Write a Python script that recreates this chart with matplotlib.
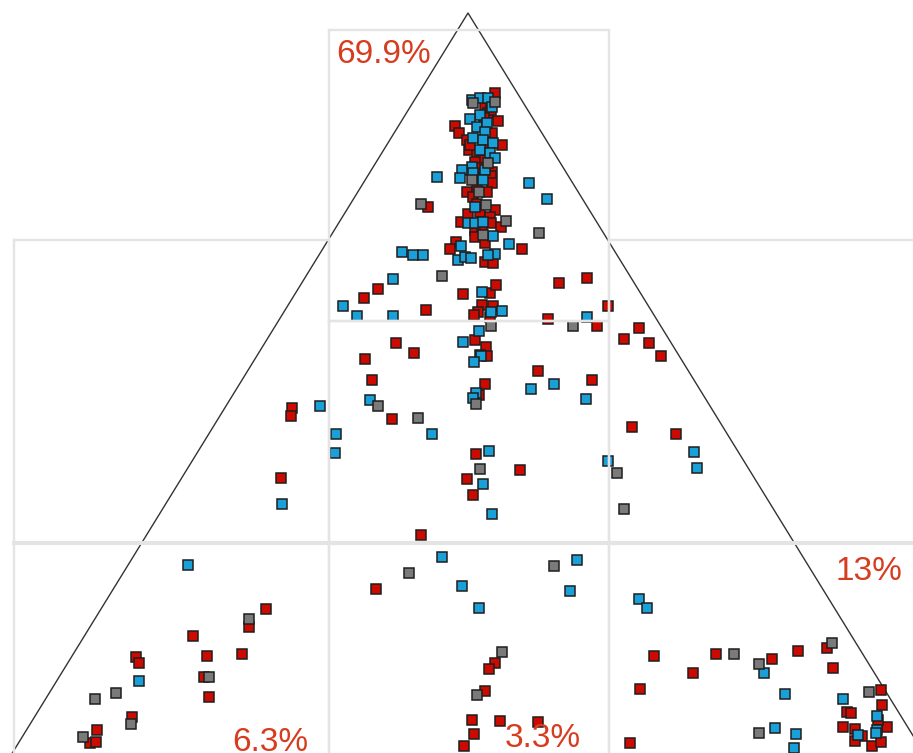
import matplotlib
matplotlib.use("Agg")
import matplotlib.pyplot as plt
import numpy as np

# ---------------- data (pixel-like units) ----------------
red_pts = [
    (495,92.7),(485,105),(488,113),(490.7,110),(497.7,120.7),(455,126),(459.3,133.3),(491.7,133.3),
    (466.7,140),(501.7,145),(469.3,150),(488.3,148.3),(476.7,155),(481.7,160),(475,161.7),(478.3,168.3),
    (491.7,171.7),(485,173.3),(490.7,176),(491.7,182.7),(479.3,179.3),(466.7,191.7),(487.3,191.7),
    (472.7,196.7),(428.3,207.3),(476.7,204),(480,211.7),(495,210),(460.7,221.7),(490,216.7),(490.7,223.3),
    (501,226.7),(475,230),(481.7,230),(475,236.7),(485,242.7),(456,241.7),(450,248.7),(522.3,248.7),
    (485,261.7),(493.3,262.7),(470,145),(484,118),(477,186),(468,214),
    (377.7,289.3),(364,298.3),(425.7,310),(463.3,294.3),(490,293.3),(496,285),(482.3,305),(493.3,306),
    (478.3,312.3),(474,315),(490,317.3),(559.3,282.7),(586.7,277.5),(608.3,306.3),(547.7,319.3),
    (596.7,326.3),(639.3,328.3),(624.3,338.7),(649.3,342.7),(660.7,355.7),
    (475,340),(486,346.7),(480,355),(487.3,356),(395.5,342.7),(414.3,353),(365.2,359.2),(371.8,380.2),
    (537.7,371),(591.7,380),(484.5,384.2),(478.8,395),(391.8,419.3),
    (292.3,407.7),(291,415.7),(281,478),(475.8,454),(466.9,479.3),(473.3,495),(520,470),(631.7,427),
    (676,433.7),(421,535.3),
    (376.3,588.7),(265.7,609.3),(249.3,626.7),(192.7,635.7),(136,657.3),(139,663),(206.7,656),(242,653.7),
    (204,677.3),(209,696.7),(132.3,717.3),(96.7,730.3),(90,743.3),(96,742.3),
    (495,662.7),(488.7,669.3),(484.7,691.3),(472,720),(499.7,721),(537.7,722),(474.3,734),(464.3,745.7),
    (653.5,656),(640.3,688.7),(630.3,743.3),(692.7,672.7),(716,653.7),(771.7,659),(798,651),(827,648.3),
    (833.3,668),(881,690),(846.7,711.7),(850.7,713.3),(882,705.3),(843.3,726.7),(855,729.3),(862.3,735.7),
    (887.3,727.3),(855,740.7),(872.3,745.7),(881,742),(878,720),
]
blue_pts = [
    (471.7,100),(480,98.3),(488.3,98.3),(491.7,106.7),(480,115),(470,119.3),(476.7,126.7),(486.7,123.3),
    (485,131.7),(473.3,138.3),(483.3,140),(493.3,142.7),(480,150),(490,153.3),(495,158.3),(471.7,166.7),
    (461.7,170),(485,170),(473.3,173.3),(436.7,176.7),(460,178.3),(483.3,180),(529,182.7),(546.7,199.3),
    (475,206.7),(468.3,223.3),(475,222.7),(482.7,221.7),(493.3,236),(508.7,243.5),(461,246),(402,252.3),
    (412.7,255.3),(422.7,255.3),(458.3,260),(465,256.7),(471,258.3),(495,254),(488.3,255),
    (393,278.5),(342.7,306),(356.5,316.3),(393,316.3),(482.3,292),(491,311.7),(502.3,311),(586.7,317),
    (479,330.7),(463.3,342.2),(480.5,355.5),(474.3,362.3),(531,389),(554,384.2),(585.5,398.7),
    (475.7,393.3),(473,398.3),(370,399.7),(432,433.5),(320,406.3),(336.2,433.5),(335.2,453),(282.3,504),
    (489,450.7),(483.3,484.3),(492.3,514.3),(608.3,460.8),(693.7,451.7),(697,467.7),
    (187.7,565),(139,681),(442,557.3),(462,586),(478.7,608.3),(576.7,559.7),(570.3,591),(639.3,599),
    (647.3,608.3),(763.7,673),(785.3,693.7),(843.3,699),(877.3,716),(858.3,735),(877.3,730),(876,733.3),
    (775.3,728),(796,734.3),(794.3,748.3),
]
gray_pts = [
    (473.3,103.3),(495,101.7),(488.3,163.3),(471.7,180),(479.3,191.7),(421,204),(486,205),(506,220.7),
    (483.3,235),(539,233),(442,276),(491,326),(572.7,326.3),(378,406.3),(418,418),(475.7,404),(480,469),
    (616.5,473),(624.3,509.3),(409.3,573),(554,566.3),(249.3,618.7),(209,677.3),(115.7,692.7),
    (94.7,699.3),(131.3,724),(83.3,737),(502.3,652.3),(477.3,694.7),(733.7,653.7),(759,663.7),
    (832.3,643.3),(868.7,692.3),(759.3,732.7),
]

labels = ["69.9%", "13%", "6.3%", "3.3%"]
label_x = [336, 836, 232, 505]
label_y = [63, 580, 751, 747]

tri_x = [8, 468, 928]
tri_y = [760, 13, 760]

# grid cells (left, top, right, bottom)
cells = [
    (329, 30, 609, 321),
    (14, 240, 329, 543),
    (609, 240, 930, 543),
    (329, 321, 609, 543),
    (14, 543, 329, 770),
    (329, 543, 609, 770),
    (609, 543, 930, 770),
]

colors = {"red": "#cc0a00", "blue": "#1aa0d8", "gray": "#7a7a7a"}
text_color = "#d63c1e"

# ---------------- drawing ----------------
fig = plt.figure(figsize=(9.13, 7.53), dpi=100)
ax = fig.add_axes([0, 0, 1, 1])
ax.set_xlim(0, 913)
ax.set_ylim(753, 0)
ax.axis("off")

for (l, t, r, b) in cells:
    ax.plot([l, r, r, l, l], [t, t, b, b, t], color="#e4e4e4", lw=1.7, zorder=5,
            solid_joinstyle="miter")
ax.plot([14, 930], [543, 543], color="#e4e4e4", lw=3.0, zorder=5)

ax.plot(tri_x, tri_y, color="#333333", lw=1.0, zorder=1)

for pts, c in [(red_pts, "red"), (blue_pts, "blue"), (gray_pts, "gray")]:
    arr = np.array(pts)
    ax.plot(arr[:, 0], arr[:, 1], linestyle="none", marker="s", markersize=6.9,
            markerfacecolor=colors[c], markeredgecolor="#1e1e1e", markeredgewidth=1.1,
            zorder=3)

for s, x, y in zip(labels, label_x, label_y):
    ax.text(x, y, s, color=text_color, fontsize=24, family=["Liberation Sans", "DejaVu Sans"],
            ha="left", va="baseline", zorder=6)

fig.savefig("out.png", dpi=100)
